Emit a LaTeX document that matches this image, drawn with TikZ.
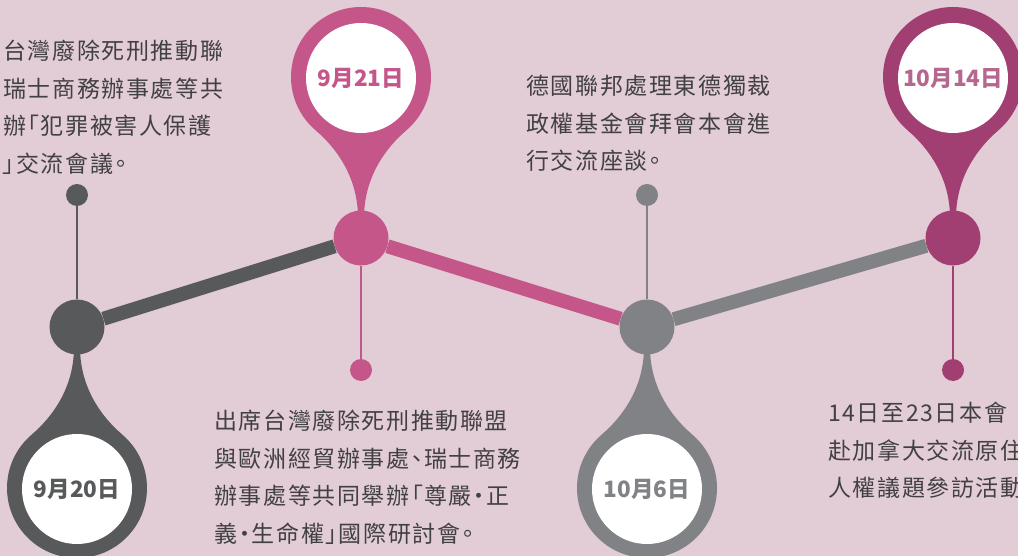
\documentclass[tikz,border=0pt]{standalone}
\usepackage{fontspec}
\newfontfamily\notecjk[LetterSpace=7,RawFeature=+palt]{Noto Sans CJK TC}
\newfontfamily\datecjk{Noto Sans CJK TC}

\definecolor{tlbg}{HTML}{E2CCD5}
\definecolor{tldark}{HTML}{58595B}
\definecolor{tlpink}{HTML}{C5568A}
\definecolor{tlgray}{HTML}{808285}
\definecolor{tlplum}{HTML}{A23F72}
\definecolor{tlplumtext}{HTML}{B5678F}
\definecolor{tltext}{HTML}{414042}

\begin{document}
\begin{tikzpicture}[x=1pt, y=-1pt,
	hub/.style={circle, fill=#1, inner sep=0pt, minimum size=55pt},
	pin/.style={circle, fill=#1, inner sep=0pt, minimum size=22pt},
	face/.style={circle, fill=white, inner sep=0pt, minimum size=110pt,
		font=\datecjk\bfseries\fontsize{22.5}{22.5}\selectfont},
	note/.style={anchor=north west, inner sep=0pt, align=left, text=tltext,
		font=\notecjk\fontsize{23}{37.5}\selectfont}]
	\def\dropR{70} % Radius of the date bubble
	\def\dropD{161} % Distance from hub to bubble centre
	\def\pinD{132} % Distance from hub to small pin
	
	% Page and background
	\useasboundingbox (0,0) rectangle (1018,556);
	\clip (0,0) rectangle (1018,556);
	\fill[tlbg] (0,0) rectangle (1018,556);
	
	% Hubs, drops and pins (dir 1 = drop hangs down, -1 = drop points up)
	\foreach \nm/\px/\py/\dir/\col/\datecol/\date in {
		a/77/327/1/tldark/tldark/9月20日,
		b/361/238/-1/tlpink/tlpink/9月21日,
		c/647/327/1/tlgray/tlgray/10月6日,
		d/953/238/-1/tlplum/tlplumtext/10月14日} {
		\begin{scope}[shift={(\px,\py)}, yscale=\dir]
			\fill[\col] (-3,20) .. controls (-3,62) and (-26,91) .. (-45,107.4)
				-- (45,107.4) .. controls (26,91) and (3,62) .. (3,20) -- cycle;
			\fill[\col] (0,\dropD) circle (\dropR);
		\end{scope}
		\node[face, text=\datecol] (\nm date) at (\px,\py+\dir*\dropD+1) {\date};
		\node[hub=\col] (\nm) at (\px,\py) {};
		\node[pin=\col] (\nm pin) at (\px,\py-\dir*\pinD) {};
		\draw[\col, line width=2pt] (\nm) -- (\nm pin);
	}
	
	% Time line
	\draw[tldark, line width=14pt] (a) -- (b);
	\draw[tlpink, line width=14pt] (b) -- (c);
	\draw[tlgray, line width=14pt] (c) -- (d);
	
	% Notes
	\node[note] (leftnote) at (3,40) {台灣廢除死刑推動聯\\瑞士商務辦事處等共\\辦「犯罪被害人保護\\」交流會議。};
	\node[note] (midnote) at (214,410) {出席台灣廢除死刑推動聯盟\\與歐洲經貿辦事處、瑞士商務\\辦事處等共同舉辦「尊嚴・正\\義・生命權」國際研討會。};
	\node[note] (topnote) at (526,75) {德國聯邦處理東德獨裁\\政權基金會拜會本會進\\行交流座談。};
	\node[note] (rightnote) at (828,402) {14日至23日本會\\赴加拿大交流原住\\人權議題參訪活動};
\end{tikzpicture}
\end{document}
